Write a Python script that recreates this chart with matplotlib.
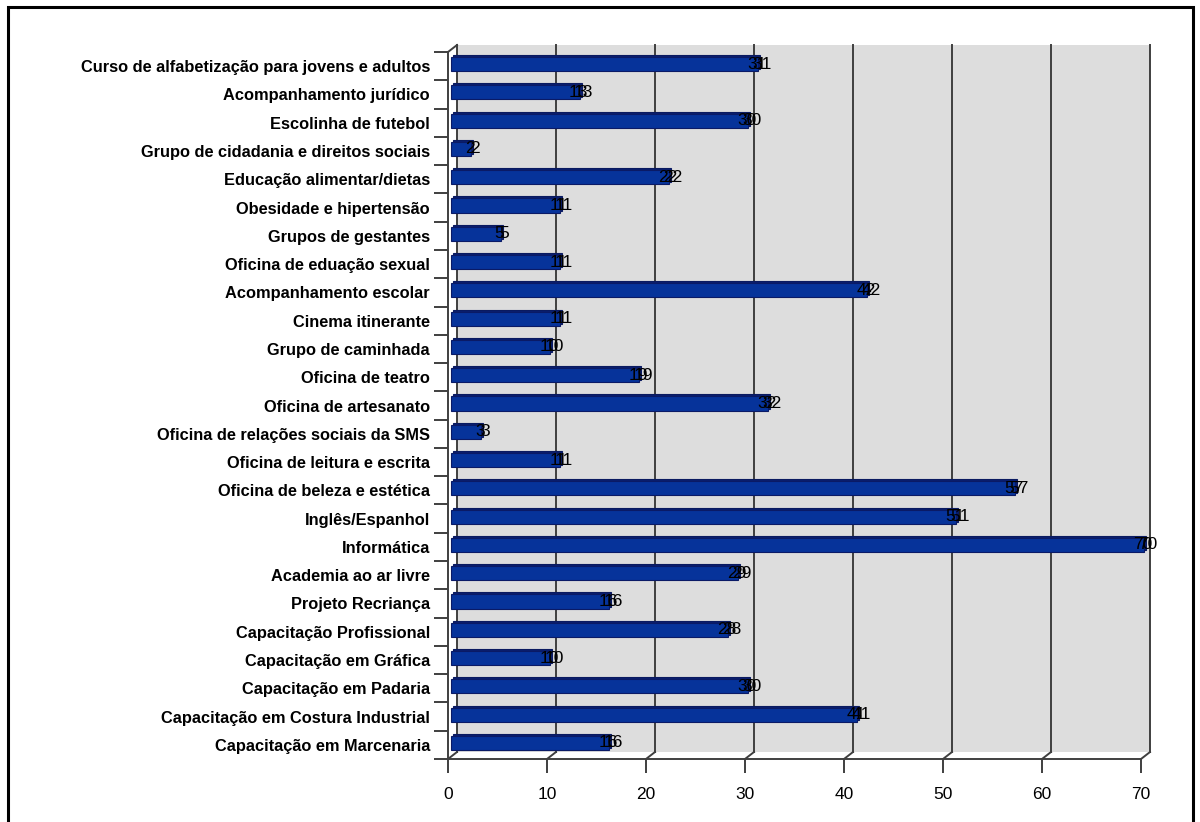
import numpy as np
import matplotlib.pyplot as plt
from matplotlib.patches import Rectangle
from matplotlib.transforms import ScaledTranslation

# categorias (de cima para baixo) e número de participantes
categorias = [
    'Curso de alfabetização para jovens e adultos',
    'Acompanhamento jurídico',
    'Escolinha de futebol',
    'Grupo de cidadania e direitos sociais',
    'Educação alimentar/dietas',
    'Obesidade e hipertensão',
    'Grupos de gestantes',
    'Oficina de eduação sexual',
    'Acompanhamento escolar',
    'Cinema itinerante',
    'Grupo de caminhada',
    'Oficina de teatro',
    'Oficina de artesanato',
    'Oficina de relações sociais da SMS',
    'Oficina de leitura e escrita',
    'Oficina de beleza e estética',
    'Inglês/Espanhol',
    'Informática',
    'Academia ao ar livre',
    'Projeto Recriança',
    'Capacitação Profissional',
    'Capacitação em Gráfica',
    'Capacitação em Padaria',
    'Capacitação em Costura Industrial',
    'Capacitação em Marcenaria',
]
valores = [31, 13, 30, 2, 22, 11, 5, 11, 42, 11, 10, 19, 32, 3, 11,
           57, 51, 70, 29, 16, 28, 10, 30, 41, 16]
xticks = [0, 10, 20, 30, 40, 50, 60, 70]

plt.rcParams['font.family'] = ['Liberation Sans', 'DejaVu Sans']

DPI = 100
fig = plt.figure(figsize=(12, 8.22), dpi=DPI)
ax = fig.add_axes([448/1200, 63/822, 693/1200, 707/822])

n = len(categorias)
ypos = np.arange(n)
ax.set_xlim(0, 70)
ax.set_ylim(n - 0.5, -0.5)

def shift(dx, dy):
    # deslocamento em pixels (efeito 3D)
    return ax.transData + ScaledTranslation(dx / DPI, dy / DPI, fig.dpi_scale_trans)

DEPTH_X, DEPTH_Y = 9, 7
wall = shift(DEPTH_X, DEPTH_Y)

# parede de fundo
ax.add_patch(Rectangle((0, -0.5), 70, n, transform=wall, facecolor='#DDDDDD',
                       edgecolor='none', zorder=0, clip_on=False))
for v in xticks:
    ax.plot([v, v], [-0.5, n - 0.5], transform=wall, color='#3F3F3F', lw=1.4,
            zorder=1, clip_on=False)

# pequenas diagonais (piso / canto)
px_x = ax.get_position().width * 1200 / 70
px_y = ax.get_position().height * 822 / n
ddx, ddy = DEPTH_X / px_x, DEPTH_Y / px_y
for v in xticks:
    ax.plot([v, v + ddx], [n - 0.5, n - 0.5 - ddy], color='#3F3F3F', lw=1.4,
            zorder=1, clip_on=False)
ax.plot([0, ddx], [-0.5, -0.5 - ddy], color='#3F3F3F', lw=1.4, zorder=1, clip_on=False)

# barras 3D: face superior (escura) + face frontal
ax.barh(ypos, valores, height=0.5, color='#0A1F6E', edgecolor='#0A1A60', lw=0.8,
        transform=shift(5, 4), zorder=3, clip_on=False)
ax.barh(ypos, valores, height=0.5, color='#06339A', edgecolor='#0A1A66', lw=0.8,
        transform=shift(3, 2), zorder=4, clip_on=False)

# rótulos de dados (duplicados, como no original)
for i, v in enumerate(valores):
    for dx in (2, 7):
        ax.text(v, i, str(v), transform=shift(dx, 2), ha='center', va='center',
                fontsize=12.5, color='black', zorder=6, clip_on=False)

# eixos
for s in ['top', 'right']:
    ax.spines[s].set_visible(False)
for s in ['left', 'bottom']:
    ax.spines[s].set_color('#3F3F3F')
    ax.spines[s].set_linewidth(1.4)
ax.set_facecolor('none')

ax.set_xticks(xticks)
ax.set_xticklabels([str(t) for t in xticks], fontsize=12.5)
ax.tick_params(axis='x', length=10, width=1.4, color='#3F3F3F', pad=10)

ax.set_yticks(ypos)
ax.set_yticklabels(categorias, fontsize=11.8, fontweight='bold')
ax.set_yticks(np.arange(n + 1) - 0.5, minor=True)
ax.tick_params(axis='y', which='major', length=0, pad=13)
ax.tick_params(axis='y', which='minor', length=10, width=1.4, color='#3F3F3F')

# moldura externa
fig.add_artist(Rectangle((8/1200, -0.05), 1185/1200, 1.05 - 7/822, transform=fig.transFigure,
                         fill=False, edgecolor='black', lw=2.2))

fig.savefig('out.png', dpi=DPI)
